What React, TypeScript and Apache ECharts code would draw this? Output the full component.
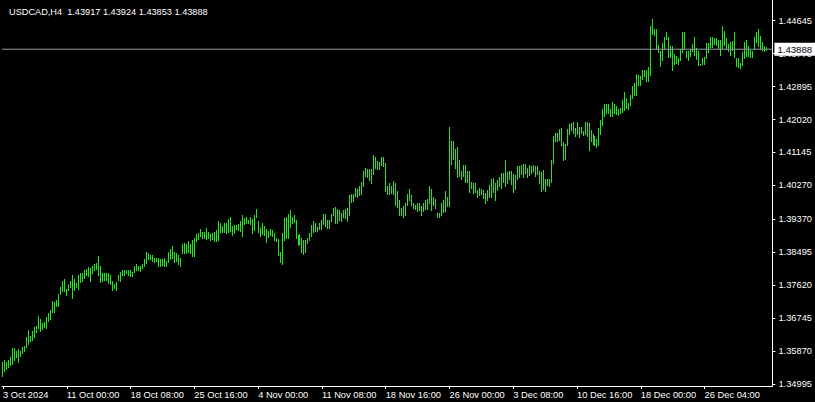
import React, { useEffect, useRef } from 'react';
import * as echarts from 'echarts';

const symbol = 'USDCAD,H4';
const lastOpen = 1.43917;
const lastHigh = 1.43924;
const lastLow = 1.43853;
const lastClose = 1.43888;

const highs: number[] = [
  1.3556,1.3563,1.3558,1.3561,1.3571,1.3593,1.3593,1.3585,1.3590,1.3587,
  1.3597,1.3599,1.3622,1.3643,1.3627,1.3638,1.3650,1.3652,1.3678,1.3670,
  1.3659,1.3664,1.3677,1.3688,1.3696,1.3720,1.3717,1.3722,1.3737,1.3757,
  1.3771,1.3777,1.3751,1.3763,1.3771,1.3787,1.3778,1.3766,1.3789,1.3792,
  1.3792,1.3800,1.3803,1.3809,1.3806,1.3811,1.3818,1.3820,1.3839,1.3812,
  1.3792,1.3792,1.3794,1.3794,1.3787,1.3771,1.3765,1.3769,1.3787,1.3797,
  1.3802,1.3802,1.3802,1.3802,1.3800,1.3797,1.3813,1.3816,1.3813,1.3813,
  1.3818,1.3829,1.3850,1.3845,1.3840,1.3840,1.3834,1.3834,1.3834,1.3829,
  1.3829,1.3834,1.3824,1.3850,1.3856,1.3864,1.3848,1.3845,1.3840,1.3832,
  1.3871,1.3874,1.3871,1.3877,1.3871,1.3882,1.3887,1.3898,1.3900,1.3909,
  1.3903,1.3901,1.3912,1.3903,1.3898,1.3900,1.3901,1.3907,1.3930,1.3926,
  1.3919,1.3926,1.3925,1.3937,1.3942,1.3917,1.3921,1.3921,1.3923,1.3930,
  1.3946,1.3939,1.3941,1.3935,1.3942,1.3937,1.3946,1.3962,1.3930,1.3912,
  1.3925,1.3919,1.3909,1.3905,1.3909,1.3907,1.3900,1.3887,1.3884,1.3850,
  1.3900,1.3939,1.3942,1.3949,1.3960,1.3942,1.3948,1.3933,1.3895,1.3898,
  1.3887,1.3880,1.3880,1.3887,1.3900,1.3921,1.3930,1.3926,1.3916,1.3926,
  1.3935,1.3951,1.3951,1.3933,1.3935,1.3949,1.3965,1.3969,1.3964,1.3960,
  1.3953,1.3960,1.3964,1.3965,1.4001,1.4004,1.4004,1.4020,1.4017,1.4024,
  1.4036,1.4065,1.4073,1.4068,1.4070,1.4068,1.4107,1.4102,1.4091,1.4089,
  1.4102,1.4102,1.4086,1.4025,1.4031,1.4025,1.4038,1.4033,1.4012,1.3986,
  1.3966,1.3972,1.3980,1.4002,1.4016,1.4000,1.3978,1.3975,1.3980,1.3978,
  1.3970,1.3978,1.3986,1.3989,1.4023,1.4016,1.3994,1.3989,1.3952,1.3952,
  1.3978,1.3986,1.4010,1.3996,1.4180,1.4145,1.4145,1.4122,1.4129,1.4092,
  1.4063,1.4079,1.4079,1.4065,1.4065,1.4036,1.4032,1.4033,1.4014,1.4019,
  1.4017,1.4014,1.4005,1.4014,1.4028,1.4044,1.4046,1.4033,1.4041,1.4048,
  1.4058,1.4060,1.4092,1.4062,1.4063,1.4065,1.4055,1.4053,1.4076,1.4076,
  1.4081,1.4083,1.4083,1.4072,1.4079,1.4076,1.4081,1.4076,1.4076,1.4065,
  1.4062,1.4067,1.4044,1.4044,1.4044,1.4094,1.4157,1.4166,1.4166,1.4175,
  1.4177,1.4142,1.4136,1.4175,1.4188,1.4191,1.4195,1.4177,1.4195,1.4182,
  1.4182,1.4170,1.4193,1.4195,1.4191,1.4173,1.4161,1.4156,1.4150,1.4177,
  1.4200,1.4228,1.4243,1.4243,1.4241,1.4230,1.4246,1.4241,1.4237,1.4230,
  1.4232,1.4253,1.4273,1.4257,1.4244,1.4267,1.4290,1.4299,1.4322,1.4318,
  1.4315,1.4331,1.4333,1.4333,1.4340,1.4450,1.4467,1.4442,1.4442,1.4398,
  1.4382,1.4403,1.4421,1.4434,1.4421,1.4395,1.4397,1.4375,1.4370,1.4365,
  1.4387,1.4432,1.4434,1.4382,1.4384,1.4387,1.4400,1.4421,1.4391,1.4382,
  1.4349,1.4363,1.4368,1.4405,1.4403,1.4419,1.4421,1.4416,1.4416,1.4411,
  1.4412,1.4450,1.4437,1.4416,1.4402,1.4407,1.4409,1.4432,1.4363,1.4363,
  1.4352,1.4379,1.4407,1.4411,1.4395,1.4386,1.4382,1.4421,1.4432,1.4442,
  1.4423,1.4407,1.4395,1.43924,
];

const lows: number[] = [
  1.3519,1.3532,1.3538,1.3544,1.3550,1.3552,1.3561,1.3571,1.3556,1.3572,
  1.3580,1.3585,1.3597,1.3605,1.3612,1.3614,1.3623,1.3637,1.3646,1.3640,
  1.3645,1.3649,1.3648,1.3665,1.3672,1.3689,1.3689,1.3705,1.3705,1.3736,
  1.3745,1.3746,1.3735,1.3748,1.3755,1.3726,1.3747,1.3755,1.3750,1.3770,
  1.3771,1.3779,1.3788,1.3785,1.3771,1.3793,1.3802,1.3805,1.3789,1.3770,
  1.3771,1.3774,1.3774,1.3767,1.3765,1.3749,1.3753,1.3747,1.3774,1.3771,
  1.3787,1.3787,1.3792,1.3787,1.3785,1.3785,1.3795,1.3800,1.3802,1.3799,
  1.3807,1.3811,1.3820,1.3829,1.3829,1.3825,1.3822,1.3825,1.3813,1.3813,
  1.3815,1.3813,1.3813,1.3822,1.3829,1.3834,1.3822,1.3824,1.3816,1.3813,
  1.3845,1.3847,1.3847,1.3848,1.3847,1.3838,1.3838,1.3878,1.3884,1.3891,
  1.3886,1.3886,1.3884,1.3886,1.3882,1.3884,1.3877,1.3877,1.3882,1.3903,
  1.3903,1.3901,1.3900,1.3901,1.3905,1.3893,1.3900,1.3909,1.3907,1.3905,
  1.3891,1.3923,1.3926,1.3925,1.3923,1.3900,1.3907,1.3941,1.3903,1.3891,
  1.3898,1.3893,1.3875,1.3889,1.3893,1.3891,1.3880,1.3877,1.3840,1.3822,
  1.3816,1.3882,1.3886,1.3886,1.3914,1.3925,1.3928,1.3887,1.3868,1.3870,
  1.3850,1.3843,1.3850,1.3873,1.3880,1.3891,1.3903,1.3905,1.3905,1.3910,
  1.3909,1.3923,1.3917,1.3912,1.3912,1.3930,1.3948,1.3926,1.3926,1.3935,
  1.3930,1.3941,1.3939,1.3930,1.3946,1.3981,1.3985,1.3997,1.3994,1.3999,
  1.4002,1.4025,1.4050,1.4049,1.4040,1.4031,1.4057,1.4073,1.4068,1.4068,
  1.4079,1.4077,1.4010,1.4004,1.4004,1.4006,1.4002,1.3975,1.3968,1.3948,
  1.3946,1.3943,1.3946,1.3975,1.3986,1.3973,1.3966,1.3962,1.3957,1.3961,
  1.3948,1.3959,1.3964,1.3964,1.3978,1.3961,1.3975,1.3966,1.3941,1.3941,
  1.3948,1.3954,1.3957,1.3970,1.3972,1.4083,1.4095,1.4072,1.4049,1.4051,
  1.4042,1.4051,1.4036,1.4035,1.4009,1.4019,1.4005,1.4009,1.3996,1.4000,
  1.4002,1.3993,1.3980,1.3988,1.3996,1.3996,1.4007,1.3986,1.4014,1.4023,
  1.4019,1.4035,1.4023,1.4033,1.4042,1.4030,1.4009,1.4017,1.4044,1.4049,
  1.4057,1.4049,1.4058,1.4049,1.4053,1.4058,1.4063,1.4051,1.4057,1.4033,
  1.4010,1.4016,1.4012,1.4026,1.4025,1.4036,1.4085,1.4145,1.4145,1.4147,
  1.4134,1.4092,1.4097,1.4134,1.4163,1.4172,1.4166,1.4156,1.4161,1.4154,
  1.4166,1.4159,1.4161,1.4156,1.4119,1.4145,1.4136,1.4133,1.4129,1.4134,
  1.4161,1.4186,1.4209,1.4219,1.4219,1.4211,1.4211,1.4218,1.4216,1.4214,
  1.4218,1.4221,1.4225,1.4232,1.4230,1.4239,1.4257,1.4265,1.4267,1.4292,
  1.4292,1.4308,1.4315,1.4304,1.4303,1.4320,1.4427,1.4425,1.4387,1.4379,
  1.4342,1.4359,1.4387,1.4414,1.4368,1.4368,1.4333,1.4347,1.4350,1.4349,
  1.4359,1.4379,1.4387,1.4368,1.4359,1.4370,1.4382,1.4372,1.4361,1.4345,
  1.4345,1.4349,1.4347,1.4363,1.4379,1.4393,1.4393,1.4402,1.4398,1.4391,
  1.4373,1.4391,1.4398,1.4389,1.4382,1.4372,1.4386,1.4368,1.4342,1.4340,
  1.4338,1.4345,1.4363,1.4370,1.4370,1.4368,1.4368,1.4387,1.4407,1.4397,
  1.4389,1.4386,1.4382,1.43853,
];

const xTickBars = [1, 33, 65, 97, 129, 161, 193, 225, 257, 289, 321, 353];
const xTickLabels = [
  '3 Oct 2024', '11 Oct 00:00', '18 Oct 08:00', '25 Oct 16:00', '4 Nov 00:00',
  '11 Nov 08:00', '18 Nov 16:00', '26 Nov 00:00', '3 Dec 08:00', '10 Dec 16:00',
  '18 Dec 00:00', '26 Dec 04:00',
];

const yTickLabels = [
  '1.34995', '1.35870', '1.36745', '1.37620', '1.38495', '1.39370',
  '1.40270', '1.41145', '1.42020', '1.42895', '1.43770', '1.44645',
];
const yTickValues = yTickLabels.map((s) => parseFloat(s));

const FONT = 'Liberation Sans';
const BAR_COLOR = '#22e622';

export default function App() {
  const ref = useRef<HTMLDivElement>(null);
  useEffect(() => {
    document.body.style.margin = '0';
    const chart = echarts.init(ref.current!, null, { renderer: 'svg' });
    const data = highs.map((h, i) => [i + 1, lows[i], h]);
    const title = `${symbol}\u00a0\u00a0${lastOpen.toFixed(5)} ${lastHigh.toFixed(5)} ${lastLow.toFixed(5)} ${lastClose.toFixed(5)}`;
    chart.setOption({
      animation: false,
      backgroundColor: '#000000',
      title: {
        text: title,
        left: 4,
        top: 2,
        textStyle: { color: '#ffffff', fontSize: 9.2, fontWeight: 'normal', fontFamily: FONT },
      },
      grid: { left: 0, top: 0, width: 773, height: 386, containLabel: false },
      xAxis: {
        type: 'value',
        min: 0.5,
        max: 387,
        position: 'bottom',
        splitLine: { show: false },
        axisLine: { show: true, onZero: false, lineStyle: { color: '#ffffff', width: 1 } },
        axisTick: { show: true, customValues: xTickBars, length: 3, lineStyle: { color: '#ffffff' } },
        axisLabel: {
          show: true,
          customValues: xTickBars,
          formatter: (v: number) => {
            const i = xTickBars.indexOf(Math.round(v));
            return i >= 0 ? xTickLabels[i] : '';
          },
          align: 'left',
          margin: 4,
          color: '#ffffff',
          fontSize: 9.3,
          fontFamily: FONT,
        },
      },
      yAxis: {
        type: 'value',
        position: 'right',
        min: 1.34943,
        max: 1.45195,
        splitLine: { show: false },
        axisLine: { show: true, onZero: false, lineStyle: { color: '#ffffff', width: 1 } },
        axisTick: { show: true, customValues: yTickValues, length: 3, lineStyle: { color: '#ffffff' } },
        axisLabel: {
          show: true,
          customValues: yTickValues,
          formatter: (v: number) => {
            const i = yTickValues.findIndex((t) => Math.abs(t - v) < 1e-7);
            return i >= 0 ? yTickLabels[i] : '';
          },
          margin: 6,
          color: '#ffffff',
          fontSize: 9.3,
          fontFamily: FONT,
        },
      },
      series: [
        {
          type: 'custom',
          data,
          encode: { x: 0, y: [1, 2] },
          clip: false,
          renderItem: (params: any, api: any) => {
            const k = api.value(0);
            const lo = api.value(1);
            const hi = api.value(2);
            const a = api.coord([k, hi]);
            const b = api.coord([k, lo]);
            const x = Math.floor(a[0]) + 0.5;
            let y1 = Math.floor(a[1]);
            let y2 = Math.ceil(b[1]);
            if (y2 - y1 < 1) y2 = y1 + 1;
            return {
              type: 'line',
              shape: { x1: x, y1, x2: x, y2 },
              style: { stroke: BAR_COLOR, lineWidth: 1 },
            };
          },
        },
        {
          type: 'line',
          data: [[0.5, lastClose], [387, lastClose]],
          symbol: 'none',
          silent: true,
          z: 5,
          lineStyle: { color: '#9a9aa6', width: 1 },
          endLabel: {
            show: true,
            distance: 2,
            formatter: () => lastClose.toFixed(5),
            backgroundColor: '#ffffff',
            color: '#000000',
            padding: [2, 4, 1, 3],
            fontSize: 9.6,
            fontFamily: FONT,
          },
        },
      ],
    });
    return () => chart.dispose();
  }, []);
  return <div ref={ref} style={{ width: 815, height: 402, background: '#000' }} />;
}
